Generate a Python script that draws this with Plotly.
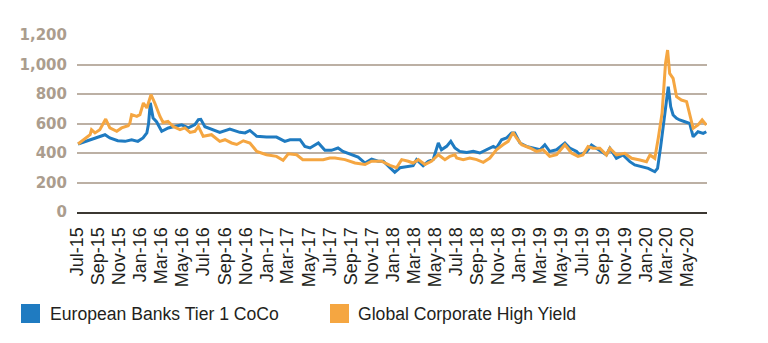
import plotly.graph_objects as go

# European Banks Tier 1 CoCo spread (bp)
coco_dates = [
    "2015-07-04", "2015-08-12", "2015-09-20", "2015-10-04", "2015-10-27", "2015-11-17",
    "2015-12-06", "2015-12-24", "2016-01-08", "2016-01-19", "2016-01-24", "2016-01-29",
    "2016-02-06", "2016-02-16", "2016-03-02", "2016-03-21", "2016-04-09", "2016-04-29",
    "2016-05-18", "2016-06-06", "2016-06-16", "2016-06-23", "2016-07-05", "2016-07-28",
    "2016-08-17", "2016-09-15", "2016-10-14", "2016-10-29", "2016-11-12", "2016-12-02",
    "2016-12-30", "2017-01-28", "2017-02-21", "2017-03-08", "2017-04-06", "2017-04-20",
    "2017-05-05", "2017-05-29", "2017-06-17", "2017-07-06", "2017-07-25", "2017-08-08",
    "2017-09-02", "2017-09-21", "2017-10-11", "2017-10-30", "2017-11-18", "2017-12-03",
    "2017-12-22", "2018-01-05", "2018-01-20", "2018-02-08", "2018-02-27", "2018-03-09",
    "2018-03-28", "2018-04-12", "2018-04-26", "2018-05-11", "2018-05-20", "2018-06-04",
    "2018-06-16", "2018-06-28", "2018-07-12", "2018-08-01", "2018-08-20", "2018-09-08",
    "2018-09-27", "2018-10-17", "2018-10-26", "2018-11-10", "2018-11-24", "2018-12-09",
    "2018-12-18", "2019-01-02", "2019-01-21", "2019-02-09", "2019-03-01", "2019-03-15",
    "2019-03-29", "2019-04-18", "2019-05-12", "2019-05-26", "2019-06-15", "2019-06-24",
    "2019-07-14", "2019-07-28", "2019-08-11", "2019-08-26", "2019-09-09", "2019-09-19",
    "2019-10-08", "2019-10-27", "2019-11-16", "2019-11-30", "2019-12-20", "2020-01-08",
    "2020-01-27", "2020-02-04", "2020-02-13", "2020-02-23", "2020-03-06", "2020-03-13",
    "2020-03-20", "2020-03-30", "2020-04-08", "2020-04-23", "2020-05-07", "2020-05-17",
    "2020-05-31", "2020-06-15", "2020-06-24",
]
coco_values = [
    461, 490, 524, 502, 483, 479,
    490, 479, 502, 536, 600, 740,
    637, 612, 547, 570, 578, 591,
    571, 593, 626, 628, 578, 558,
    540, 563, 540, 536, 553, 513,
    508, 508, 479, 490, 490, 445,
    434, 468, 418, 418, 434, 411,
    388, 372, 332, 359, 344, 344,
    300, 270, 300, 307, 314, 355,
    314, 344, 355, 468, 422, 445,
    479, 434, 411, 404, 411, 400,
    422, 445, 434, 490, 502, 536,
    536, 468, 445, 434, 422, 456,
    411, 422, 468, 434, 411, 387,
    409, 454, 432, 409, 387, 432,
    364, 387, 341, 319, 307, 296,
    273, 296, 443, 624, 850, 714,
    658, 635, 624, 612, 601, 510,
    544, 533, 544,
]

# Global Corporate High Yield spread (bp)
hy_dates = [
    "2015-07-04", "2015-07-27", "2015-08-08", "2015-08-12", "2015-08-22", "2015-09-05",
    "2015-09-22", "2015-10-04", "2015-10-24", "2015-11-07", "2015-11-26", "2015-12-01",
    "2015-12-06", "2015-12-21", "2015-12-30", "2016-01-09", "2016-01-19", "2016-01-31",
    "2016-02-11", "2016-02-26", "2016-03-06", "2016-03-20", "2016-04-04", "2016-04-24",
    "2016-05-08", "2016-05-23", "2016-06-06", "2016-06-16", "2016-06-30", "2016-07-24",
    "2016-08-17", "2016-09-01", "2016-09-20", "2016-10-05", "2016-10-24", "2016-11-12",
    "2016-12-02", "2016-12-30", "2017-01-28", "2017-02-16", "2017-03-03", "2017-03-27",
    "2017-04-14", "2017-05-14", "2017-06-12", "2017-07-01", "2017-07-16", "2017-08-14",
    "2017-09-12", "2017-10-11", "2017-10-30", "2017-11-28", "2017-12-22", "2018-01-10",
    "2018-01-25", "2018-02-13", "2018-02-27", "2018-03-14", "2018-04-02", "2018-04-21",
    "2018-05-11", "2018-05-30", "2018-06-13", "2018-06-28", "2018-07-03", "2018-07-22",
    "2018-08-10", "2018-08-30", "2018-09-18", "2018-10-07", "2018-10-26", "2018-11-14",
    "2018-11-29", "2018-12-13", "2018-12-23", "2019-01-07", "2019-01-31", "2019-02-19",
    "2019-03-10", "2019-03-29", "2019-04-18", "2019-05-12", "2019-05-31", "2019-06-19",
    "2019-07-03", "2019-07-18", "2019-08-01", "2019-08-21", "2019-09-09", "2019-09-19",
    "2019-10-08", "2019-11-01", "2019-11-21", "2019-12-15", "2020-01-03", "2020-01-13",
    "2020-01-27", "2020-02-06", "2020-02-17", "2020-02-27", "2020-03-04", "2020-03-10",
    "2020-03-20", "2020-03-30", "2020-04-13", "2020-04-28", "2020-05-07", "2020-05-17",
    "2020-05-31", "2020-06-12", "2020-06-24",
]
hy_values = [
    461, 502, 524, 558, 536, 558,
    630, 570, 547, 570, 585, 603,
    660, 648, 660, 739, 705, 795,
    739, 648, 607, 614, 580, 558,
    570, 540, 547, 580, 513, 524,
    479, 490, 468, 458, 483, 468,
    411, 388, 377, 350, 395, 388,
    355, 355, 355, 366, 366, 355,
    332, 322, 344, 344, 316, 300,
    355, 344, 332, 355, 322, 344,
    388, 355, 377, 388, 366, 355,
    366, 355, 337, 366, 422, 456,
    479, 540, 502, 456, 434, 411,
    422, 377, 388, 456, 400, 377,
    387, 443, 432, 432, 387, 432,
    387, 398, 364, 353, 341, 387,
    364, 500, 669, 1008, 1098, 940,
    906, 782, 759, 748, 669, 567,
    590, 624, 590,
]

# Axis labels: every other month
tick_dates = []
tick_labels = []
month_names = ["Jan", "Mar", "May", "Jul", "Sep", "Nov"]
for year in range(2015, 2021):
    for i, mon in enumerate([1, 3, 5, 7, 9, 11]):
        if (year == 2015 and mon < 7) or (year == 2020 and mon > 5):
            continue
        tick_dates.append(f"{year}-{mon:02d}-01")
        tick_labels.append(f"{month_names[i]}-{str(year)[2:]}")

y_ticks = [0, 200, 400, 600, 800, 1000, 1200]
y_labels = [f"{v:,}" for v in y_ticks]

series_names = ["European Banks Tier 1 CoCo", "Global Corporate High Yield"]
BLUE = "#1f7bc1"
ORANGE = "#f5a641"

fig = go.Figure()
fig.add_trace(go.Scatter(x=coco_dates, y=coco_values, mode="lines", name=series_names[0],
                         line=dict(color=BLUE, width=3), showlegend=False))
fig.add_trace(go.Scatter(x=hy_dates, y=hy_values, mode="lines", name=series_names[1],
                         line=dict(color=ORANGE, width=3), showlegend=False))

# Legend drawn as coloured squares with labels beneath the axis
L, R, T, B = 77, 61, 35, 131
W, H = 768 - L - R, 343 - T - B

def px_x(p):
    return (p - L) / W

def px_y(p):
    return (343 - B - p) / H

shapes = []
annotations = []
for (sx, tx), color, name in zip([(21, 48), (330, 356)], [BLUE, ORANGE], series_names):
    shapes.append(dict(type="rect", xref="paper", yref="paper",
                       x0=px_x(sx), x1=px_x(sx + 19), y0=px_y(323), y1=px_y(304),
                       fillcolor=color, line=dict(width=0)))
    annotations.append(dict(xref="paper", yref="paper", x=px_x(tx), y=px_y(314),
                            xanchor="left", yanchor="middle", showarrow=False, text=name,
                            font=dict(family="Liberation Sans, Arial", size=17.6, color="#231f20")))

fig.update_layout(
    width=768, height=343,
    margin=dict(l=L, r=R, t=T, b=B, pad=0),
    paper_bgcolor="white", plot_bgcolor="white",
    shapes=shapes, annotations=annotations,
    xaxis=dict(
        type="date", range=["2015-07-01", "2020-06-26"],
        tickvals=tick_dates, ticktext=tick_labels, tickangle=-90,
        tickfont=dict(family="Liberation Sans, Arial", size=18, color="#231f20"),
        showgrid=False, zeroline=False,
        showline=True, linecolor="#3b3731", linewidth=2,
        ticks="outside", ticklen=6, tickcolor="rgba(0,0,0,0)",
    ),
    yaxis=dict(
        range=[0, 1200], tickvals=y_ticks, ticktext=y_labels,
        tickfont=dict(family="DejaVu Sans", size=15, color="#ab9d8e", weight="bold"),
        showgrid=True, gridcolor="#bcb0a4", gridwidth=1.5,
        zeroline=False, showline=False,
        ticks="outside", ticklen=6, tickcolor="rgba(0,0,0,0)",
    ),
)

fig.write_html("out.html")
